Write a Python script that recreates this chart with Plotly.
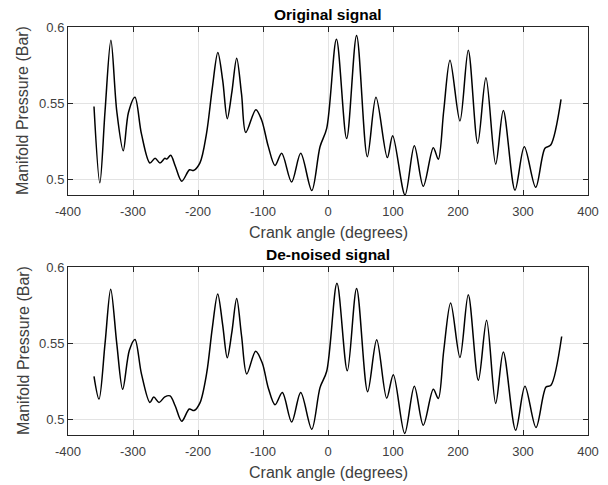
import plotly.graph_objects as go

# Original manifold pressure trace (crank angle in degrees, pressure in bar)
orig_angle = [-360, -351, -343, -334, -325, -315, -307, -297, -287, -274, -266, -258.5,
              -251, -248, -242, -235, -225, -213, -207, -197, -187, -178, -169.5, -162,
              -155, -148, -140.5, -133, -126.5, -111, -102, -92, -81.5, -71.3, -56,
              -42, -25, -12.3, -2, 13, 28.7, 44, 60.5, 73.8, 91.3, 99.5, 118.5, 132.8,
              146.6, 162, 169.7, 178, 187.7, 203, 215.8, 230.3, 243, 258, 269.7, 287.7,
              302, 319.5, 333.8, 342.6, 358.5]
orig_pressure = [0.548, 0.498, 0.545, 0.5913, 0.545, 0.519, 0.544, 0.554, 0.530, 0.511,
                 0.514, 0.511, 0.514, 0.5135, 0.516, 0.509, 0.499, 0.5065, 0.506, 0.511,
                 0.530, 0.560, 0.5833, 0.565, 0.540, 0.557, 0.5796, 0.556, 0.531, 0.5459,
                 0.539, 0.522, 0.5093, 0.5173, 0.4985, 0.5173, 0.4929, 0.5216, 0.5336,
                 0.592, 0.527, 0.5945, 0.5151, 0.554, 0.5145, 0.5288, 0.490, 0.5223,
                 0.4957, 0.521, 0.5134, 0.545, 0.5783, 0.5385, 0.5848, 0.5238, 0.5667,
                 0.5102, 0.5454, 0.4931, 0.5216, 0.495, 0.5206, 0.5227, 0.5526]

# De-noised manifold pressure trace
den_angle = [-360, -352.3, -343, -334.3, -325, -315.9, -305.6, -297, -287, -274, -268,
             -260, -251, -243, -235, -225, -213.4, -206, -197, -186.6, -178, -169.7,
             -162, -155, -148, -140.5, -133, -125, -111.3, -101, -92, -81.5, -70.3,
             -55.9, -42, -25, -12.3, -2, 13.8, 29.7, 44, 61, 74.9, 90.3, 100.5, 118,
             132.8, 146.6, 162, 169.7, 178, 188.7, 203, 215.8, 231.3, 244, 258, 269.7,
             288.7, 303, 320, 335.4, 343, 359.5]
den_pressure = [0.5284, 0.5135, 0.550, 0.5855, 0.550, 0.5199, 0.5455, 0.5526, 0.530,
                0.5113, 0.5148, 0.5113, 0.515, 0.5156, 0.509, 0.499, 0.507, 0.506,
                0.511, 0.5306, 0.560, 0.5823, 0.562, 0.5406, 0.557, 0.5793, 0.555,
                0.530, 0.5449, 0.537, 0.521, 0.5098, 0.5178, 0.4985, 0.5178, 0.4938,
                0.5210, 0.5317, 0.5893, 0.532, 0.586, 0.5184, 0.5524, 0.5141, 0.5295,
                0.491, 0.522, 0.4964, 0.5199, 0.5139, 0.545, 0.5765, 0.5408, 0.5818,
                0.5258, 0.5652, 0.5107, 0.5444, 0.4931, 0.522, 0.4949, 0.5214, 0.5226,
                0.5545]

x_ticks = [-400, -300, -200, -100, 0, 100, 200, 300, 400]
x_tick_text = ["-400", "-300", "-200", "-100", "0", "100", "200", "300", "400"]
y_ticks = [0.5, 0.55, 0.6]
y_tick_text = ["0.5", "0.55", "0.6"]

W, H = 608, 485
left, right = 68, 588
top_panel = (27, 195)
bottom_panel = (267, 435)

def ydom(p):
    return [1 - p[1] / H, 1 - p[0] / H]

fig = go.Figure()
line_style = dict(color="black", width=1.5, shape="spline", smoothing=0.9)
fig.add_trace(go.Scatter(x=orig_angle, y=orig_pressure, mode="lines", line=line_style,
                         xaxis="x", yaxis="y", showlegend=False))
fig.add_trace(go.Scatter(x=den_angle, y=den_pressure, mode="lines", line=line_style,
                         xaxis="x2", yaxis="y2", showlegend=False))

FONT = "Liberation Sans, Arial, sans-serif"
tick_font = dict(family=FONT, size=13, color="#404040")
label_font = dict(family=FONT, size=16, color="#404040")
head_font = dict(family=FONT, size=15.5, color="black")

xcommon = dict(range=[-400, 400], tickvals=x_ticks, ticktext=x_tick_text, showgrid=True,
               gridcolor="#e3e3e3", gridwidth=1, zeroline=False, showline=True,
               linecolor="#262626", linewidth=1, mirror="allticks", ticks="inside",
               ticklen=5, tickcolor="#262626", tickfont=tick_font, ticklabelstandoff=4,
               domain=[left / W, right / W], automargin=False)
ycommon = dict(range=[0.49, 0.6], tickvals=y_ticks, ticktext=y_tick_text, showgrid=True,
               gridcolor="#e3e3e3", gridwidth=1, zeroline=False, showline=True,
               linecolor="#262626", linewidth=1, mirror="allticks", ticks="inside",
               ticklen=5, tickcolor="#262626", tickfont=tick_font, automargin=False)

annotations = []
for panel, heading in [(top_panel, "Original signal"), (bottom_panel, "De-noised signal")]:
    cx = (left + right) / 2 / W
    annotations.append(dict(text="<b>%s</b>" % heading, x=cx, y=1 - (panel[0] - 13) / H,
                            xref="paper", yref="paper", showarrow=False,
                            xanchor="center", yanchor="middle", font=head_font))
    annotations.append(dict(text="Crank angle (degrees)", x=cx, y=1 - (panel[1] + 37) / H,
                            xref="paper", yref="paper", showarrow=False,
                            xanchor="center", yanchor="middle", font=label_font))
    annotations.append(dict(text="Manifold Pressure (Bar)", x=23 / W,
                            y=1 - (panel[0] + panel[1]) / 2 / H, textangle=-90,
                            xref="paper", yref="paper", showarrow=False,
                            xanchor="center", yanchor="middle", font=label_font))

fig.update_layout(
    width=W, height=H,
    margin=dict(l=0, r=0, t=0, b=0),
    paper_bgcolor="white", plot_bgcolor="white",
    xaxis=dict(xcommon, anchor="y"),
    yaxis=dict(ycommon, domain=ydom(top_panel), anchor="x"),
    xaxis2=dict(xcommon, anchor="y2"),
    yaxis2=dict(ycommon, domain=ydom(bottom_panel), anchor="x2"),
    annotations=annotations,
)

fig.write_html("out.html")
